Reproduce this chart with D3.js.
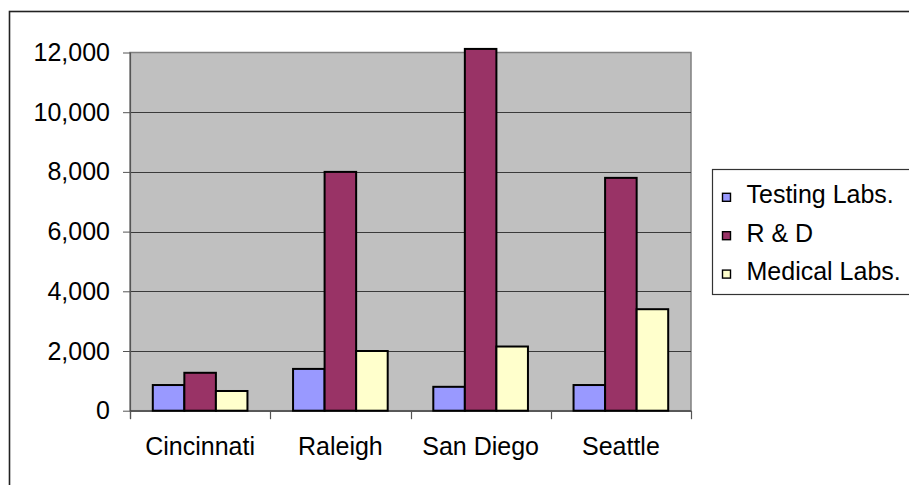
<!DOCTYPE html>
<html>
<head>
<meta charset="utf-8">
<script src="https://cdn.jsdelivr.net/npm/d3@7"></script>
<style>
  html, body { margin: 0; padding: 0; background: #fff; }
  svg { display: block; font-family: "Liberation Sans", Arial, sans-serif; }
</style>
</head>
<body>
<svg id="chart" width="909" height="485"></svg>
<script>
// Employment by lab type in four metro areas
const cities = ["Cincinnati", "Raleigh", "San Diego", "Seattle"];
const seriesNames = ["Testing Labs.", "R & D", "Medical Labs."];
const testingLabs = [860, 1400, 800, 860];
const rAndD = [1270, 8000, 12120, 7800];
const medicalLabs = [660, 2000, 2150, 3400];
const yTicks = [0, 2000, 4000, 6000, 8000, 10000, 12000];
const seriesColors = ["#9999FF", "#993366", "#FFFFCC"];

const seriesValues = [testingLabs, rAndD, medicalLabs];
const rows = cities.map((c, i) => ({
  city: c,
  values: seriesNames.map((s, k) => ({ series: s, value: seriesValues[k][i] }))
}));

const svg = d3.select("#chart");
const fontSize = 25;

// outer chart frame
svg.append("rect")
  .attr("x", 9.5).attr("y", 11.5)
  .attr("width", 930).attr("height", 500)
  .attr("fill", "#fff").attr("stroke", "#222").attr("stroke-width", 1.6);

const plot = { left: 130, right: 691, top: 52.5, bottom: 410.7 };

const x = d3.scaleBand().domain(cities).range([plot.left, plot.right]).padding(0);
const groupInset = 22.8;
const x1 = d3.scaleBand().domain(seriesNames)
  .range([groupInset, x.bandwidth() - groupInset]).padding(0);
const y = d3.scaleLinear().domain([0, 12000]).range([plot.bottom, plot.top]);

// plot area background
svg.append("rect")
  .attr("x", plot.left).attr("y", plot.top)
  .attr("width", plot.right - plot.left).attr("height", plot.bottom - plot.top)
  .attr("fill", "#C0C0C0").attr("stroke", "#808080").attr("stroke-width", 1.5);

// horizontal gridlines
svg.append("g")
  .selectAll("line")
  .data(yTicks.filter(t => t > 0 && t < 12000))
  .join("line")
  .attr("x1", plot.left).attr("x2", plot.right)
  .attr("y1", d => Math.round(y(d)) + 0.5).attr("y2", d => Math.round(y(d)) + 0.5)
  .attr("stroke", "#3a3a3a").attr("stroke-width", 1);

// y axis
const yAxis = d3.axisLeft(y)
  .tickValues(yTicks)
  .tickFormat(d3.format(","))
  .tickSizeOuter(0)
  .tickSizeInner(7)
  .tickPadding(13);
const gy = svg.append("g")
  .attr("transform", `translate(${plot.left},0)`)
  .call(yAxis);
gy.select(".domain").attr("stroke", "#555").attr("stroke-width", 1.2)
  .attr("d", `M0.5,${plot.top}V${plot.bottom + 8}`);
gy.selectAll(".tick line").attr("stroke", "#555");
gy.selectAll(".tick text")
  .attr("fill", "#000")
  .style("font-size", fontSize + "px")
  .style("font-family", "'Liberation Sans', Arial, sans-serif");

// x axis
const xAxis = d3.axisBottom(x).tickSize(0).tickPadding(27);
const gx = svg.append("g")
  .attr("transform", `translate(0,${plot.bottom})`)
  .call(xAxis);
gx.select(".domain").attr("stroke", "#333").attr("stroke-width", 1.3)
  .attr("d", `M${plot.left},0.5H${plot.right}`);
gx.selectAll(".tick text")
  .attr("fill", "#000")
  .style("font-size", fontSize + "px")
  .style("font-family", "'Liberation Sans', Arial, sans-serif");
// category separators below the axis
gx.append("g")
  .selectAll("line")
  .data(cities.map(c => x(c)).concat([plot.right]))
  .join("line")
  .attr("x1", d => Math.round(d) + 0.5).attr("x2", d => Math.round(d) + 0.5)
  .attr("y1", 0).attr("y2", 8.5)
  .attr("stroke", "#555").attr("stroke-width", 1.2);

// bars
svg.append("g")
  .selectAll("g")
  .data(rows)
  .join("g")
  .attr("transform", d => `translate(${x(d.city)},0)`)
  .selectAll("rect")
  .data(d => d.values)
  .join("rect")
  .attr("x", d => x1(d.series))
  .attr("y", d => y(d.value))
  .attr("width", x1.bandwidth())
  .attr("height", d => y(0) - y(d.value))
  .attr("fill", (d, i) => seriesColors[i])
  .attr("stroke", "#000")
  .attr("stroke-width", 2);

// legend
const legend = svg.append("g");
legend.append("rect")
  .attr("x", 712.5).attr("y", 169.5)
  .attr("width", 240).attr("height", 125)
  .attr("fill", "#fff").attr("stroke", "#333").attr("stroke-width", 1.2);
const legendRows = legend.selectAll("g.item")
  .data(seriesNames)
  .join("g")
  .attr("class", "item")
  .attr("transform", (d, i) => `translate(0,${203.3 + i * 38.4})`);
legendRows.append("rect")
  .attr("x", 722.5).attr("y", -10)
  .attr("width", 8).attr("height", 8)
  .attr("fill", (d, i) => seriesColors[i])
  .attr("stroke", "#000").attr("stroke-width", 1.4);
legendRows.append("text")
  .attr("x", 746.5).attr("y", 0)
  .style("font-size", fontSize + "px")
  .attr("fill", "#000")
  .text(d => d);
</script>
</body>
</html>
